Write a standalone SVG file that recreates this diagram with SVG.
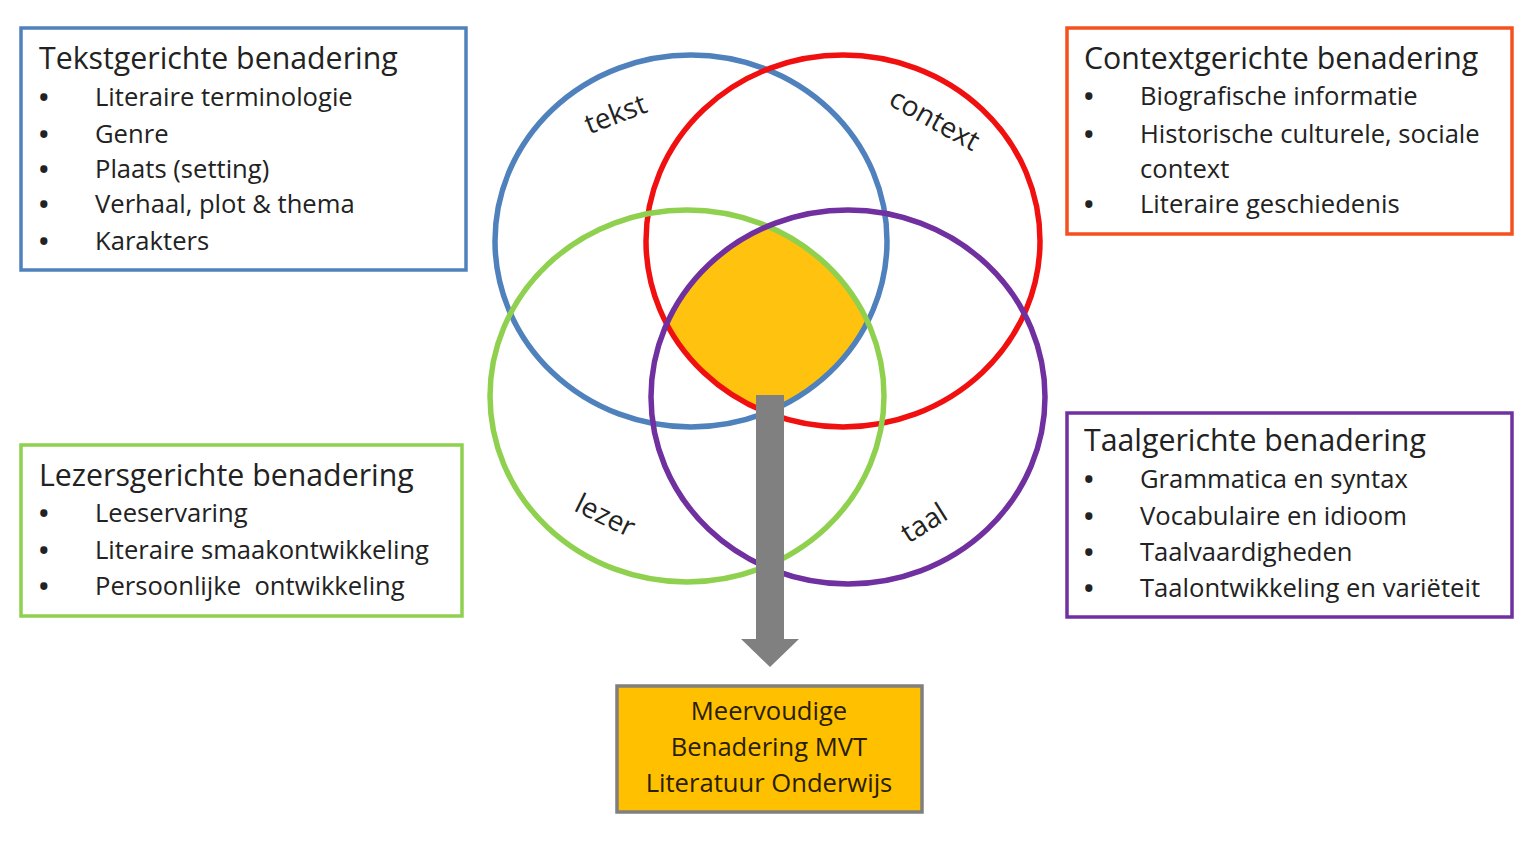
<svg xmlns="http://www.w3.org/2000/svg" width="1536" height="858" viewBox="0 0 1536 858">
<style>
text{font-family:"Open Sans",Lato,"Liberation Sans",sans-serif;fill:#222;white-space:pre;}
.title{font-size:30.3px;}
.item{font-size:25.6px;}
.b{font-weight:bold;}
.lbl{font-size:28px;}
.box{fill:#fff;stroke-width:3.5;}
.ring{fill:none;stroke-width:5.5;}
.res{font-size:25.6px;fill:#2a2000;text-anchor:middle;}
</style>
<defs>
<clipPath id="cb"><ellipse cx="691" cy="241" rx="196" ry="186"/></clipPath>
<clipPath id="cr" clip-path="url(#cb)"><ellipse cx="843" cy="241" rx="197" ry="186"/></clipPath>
<clipPath id="cg" clip-path="url(#cr)"><ellipse cx="687" cy="396" rx="197" ry="186"/></clipPath>
</defs>
<rect width="1536" height="858" fill="#fff"/>

<g id="overlap">
<ellipse cx="848" cy="397" rx="197" ry="187" fill="#FFC20E" clip-path="url(#cg)"/>
</g>

<g id="circle-tekst">
<ellipse class="ring" cx="691" cy="241" rx="196" ry="186" stroke="#4F81BD"/>
<text class="lbl" transform="translate(619,123) rotate(-21)" text-anchor="middle">tekst</text>
</g>
<g id="circle-context">
<ellipse class="ring" cx="843" cy="241" rx="197" ry="186" stroke="#F01010"/>
<text class="lbl" transform="translate(930,128) rotate(29)" text-anchor="middle">context</text>
</g>
<g id="circle-lezer">
<ellipse class="ring" cx="687" cy="396" rx="197" ry="186" stroke="#8FD14F"/>
<text class="lbl" transform="translate(601,524) rotate(26)" text-anchor="middle">lezer</text>
</g>
<g id="circle-taal">
<ellipse class="ring" cx="848" cy="397" rx="197" ry="187" stroke="#7030A0"/>
<text class="lbl" transform="translate(929,531) rotate(-32)" text-anchor="middle">taal</text>
</g>

<g id="connectors">
<path d="M756,395 H784 V639 H799 L770,667 L741,639 H756 Z" fill="#808080"/>
</g>

<g id="box-tekst">
<rect class="box" x="21" y="28" width="445" height="242" stroke="#4F81BD"/>
<text class="title" x="39" y="69">Tekstgerichte benadering</text>
<g class="item">
<text y="106"><tspan class="b" x="39">•</tspan><tspan x="95">Literaire terminologie</tspan></text>
<text y="143"><tspan class="b" x="39">•</tspan><tspan x="95">Genre</tspan></text>
<text y="178"><tspan class="b" x="39">•</tspan><tspan x="95">Plaats (setting)</tspan></text>
<text y="213"><tspan class="b" x="39">•</tspan><tspan x="95">Verhaal, plot &amp; thema</tspan></text>
<text y="250"><tspan class="b" x="39">•</tspan><tspan x="95">Karakters</tspan></text>
</g>
</g>

<g id="box-context">
<rect class="box" x="1067" y="28" width="445" height="206" stroke="#F4511E"/>
<text class="title" x="1084" y="69">Contextgerichte benadering</text>
<g class="item">
<text y="105"><tspan class="b" x="1084">•</tspan><tspan x="1140">Biografische informatie</tspan></text>
<text y="143"><tspan class="b" x="1084">•</tspan><tspan x="1140">Historische culturele, sociale</tspan></text>
<text x="1140" y="178">context</text>
<text y="213"><tspan class="b" x="1084">•</tspan><tspan x="1140">Literaire geschiedenis</tspan></text>
</g>
</g>

<g id="box-lezer">
<rect class="box" x="21" y="445" width="441" height="171" stroke="#8FD14F"/>
<text class="title" x="39" y="486">Lezersgerichte benadering</text>
<g class="item">
<text y="522"><tspan class="b" x="39">•</tspan><tspan x="95">Leeservaring</tspan></text>
<text y="559"><tspan class="b" x="39">•</tspan><tspan x="95">Literaire smaakontwikkeling</tspan></text>
<text y="595"><tspan class="b" x="39">•</tspan><tspan x="95">Persoonlijke  ontwikkeling</tspan></text>
</g>
</g>

<g id="box-taal">
<rect class="box" x="1067" y="413" width="445" height="204" stroke="#7030A0"/>
<text class="title" x="1084" y="451">Taalgerichte benadering</text>
<g class="item">
<text y="488"><tspan class="b" x="1084">•</tspan><tspan x="1140">Grammatica en syntax</tspan></text>
<text y="525"><tspan class="b" x="1084">•</tspan><tspan x="1140">Vocabulaire en idioom</tspan></text>
<text y="561"><tspan class="b" x="1084">•</tspan><tspan x="1140">Taalvaardigheden</tspan></text>
<text y="597"><tspan class="b" x="1084">•</tspan><tspan x="1140">Taalontwikkeling en variëteit</tspan></text>
</g>
</g>

<g id="box-result">
<rect x="617" y="686" width="305" height="126" fill="#FFC000" stroke="#7F7F7F" stroke-width="3.5"/>
<text class="res" x="769" y="720">Meervoudige</text>
<text class="res" x="769" y="756">Benadering MVT</text>
<text class="res" x="769" y="792">Literatuur Onderwijs</text>
</g>
</svg>
